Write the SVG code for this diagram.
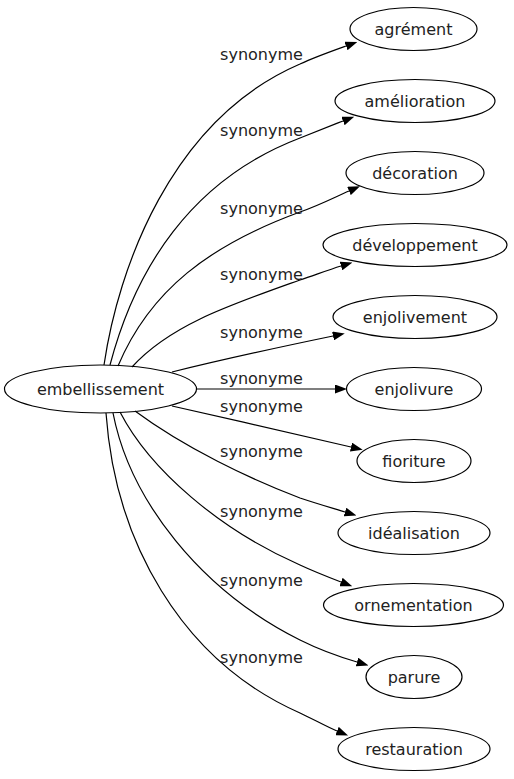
<svg xmlns="http://www.w3.org/2000/svg" width="514" height="779" viewBox="0 0 514 779">
<defs>
<style>
.n ellipse{fill:none;stroke:#000;stroke-width:1.2}
.n text,.lbl{font-family:"DejaVu Sans",sans-serif;font-size:16px;fill:#222;text-anchor:middle}
.e path{fill:none;stroke:#000;stroke-width:1.2;marker-end:url(#ah)}
</style>
<marker id="ah" markerUnits="userSpaceOnUse" viewBox="0 0 12 9" refX="0" refY="4.5" markerWidth="12" markerHeight="9" orient="auto">
<path d="M0,0 L12,4.5 L0,9 z" fill="#000"/>
</marker>
</defs>
<rect width="514" height="779" fill="#fff"/>
<g id="edges" class="e">
<path d="M104,365 C118,270 170,120 300,64 C315,57 332,51 346,46"/>
<path d="M110,365 C135,270 190,180 300,138 C318,131 330,126 343,121"/>
<path d="M118,366 C150,290 210,245 300,212 C320,205 335,197 349,191"/>
<path d="M132,367 C170,325 230,305 300,280 C315,275 328,270 341,266"/>
<path d="M172,372 C220,360 280,347 333,336"/>
<path d="M197,389 L335,389"/>
<path d="M172,406 C230,419 300,435 351,447"/>
<path d="M135,411 C185,448 250,479 300,498 C318,504 332,508 345,512"/>
<path d="M120,412 C150,470 220,530 300,565 C315,572 328,577 341,582"/>
<path d="M113,413 C130,500 200,590 300,640 C320,650 340,657 357,662"/>
<path d="M106,413 C115,540 180,660 300,713 C315,720 325,726 337,731"/>
</g>
<g id="labels">
<text class="lbl" x="261.5" y="60">synonyme</text>
<text class="lbl" x="261.5" y="136">synonyme</text>
<text class="lbl" x="261.5" y="214">synonyme</text>
<text class="lbl" x="261.5" y="280">synonyme</text>
<text class="lbl" x="261.5" y="338">synonyme</text>
<text class="lbl" x="261.5" y="384">synonyme</text>
<text class="lbl" x="261.5" y="412">synonyme</text>
<text class="lbl" x="261.5" y="457">synonyme</text>
<text class="lbl" x="261.5" y="517">synonyme</text>
<text class="lbl" x="261.5" y="586">synonyme</text>
<text class="lbl" x="261.5" y="663">synonyme</text>
</g>
<g id="embellissement" class="n"><ellipse cx="100.5" cy="389" rx="96" ry="24"/><text x="100.5" y="395">embellissement</text></g>
<g id="agrement" class="n"><ellipse cx="413.5" cy="29" rx="63.5" ry="21.5"/><text x="413.5" y="35">agrément</text></g>
<g id="amelioration" class="n"><ellipse cx="415" cy="101" rx="80" ry="21.5"/><text x="415" y="107">amélioration</text></g>
<g id="decoration" class="n"><ellipse cx="415" cy="173" rx="69" ry="21.5"/><text x="415" y="179">décoration</text></g>
<g id="developpement" class="n"><ellipse cx="415" cy="245" rx="92" ry="21.5"/><text x="415" y="251">développement</text></g>
<g id="enjolivement" class="n"><ellipse cx="415" cy="317" rx="82" ry="21.5"/><text x="415" y="323">enjolivement</text></g>
<g id="enjolivure" class="n"><ellipse cx="414" cy="389" rx="67.5" ry="21.5"/><text x="414" y="395">enjolivure</text></g>
<g id="fioriture" class="n"><ellipse cx="414" cy="461" rx="57" ry="21.5"/><text x="414" y="467">fioriture</text></g>
<g id="idealisation" class="n"><ellipse cx="414" cy="533" rx="76" ry="21.5"/><text x="414" y="539">idéalisation</text></g>
<g id="ornementation" class="n"><ellipse cx="413.5" cy="605" rx="90" ry="21.5"/><text x="413.5" y="611">ornementation</text></g>
<g id="parure" class="n"><ellipse cx="414" cy="677" rx="48" ry="21.5"/><text x="414" y="683">parure</text></g>
<g id="restauration" class="n"><ellipse cx="414" cy="749" rx="76" ry="21.5"/><text x="414" y="755">restauration</text></g>
</svg>
